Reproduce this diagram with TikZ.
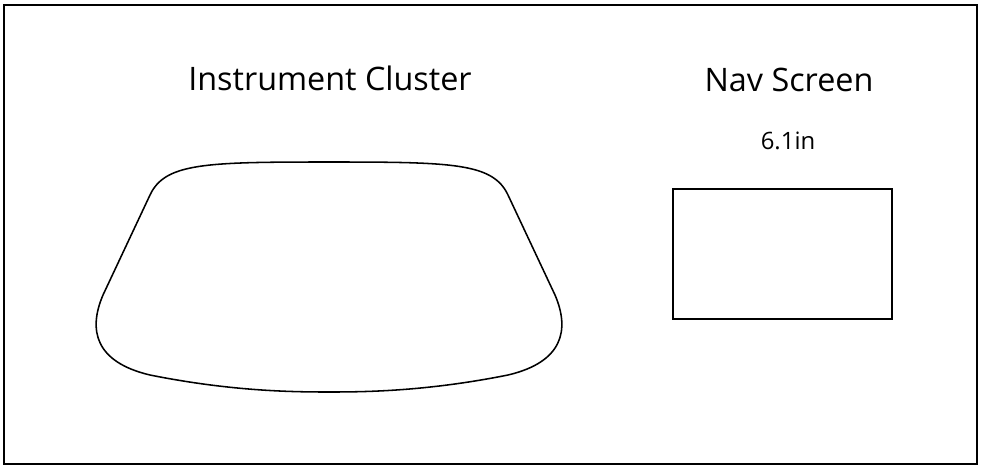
\documentclass[tikz,border=0pt]{standalone}
\usepackage{fontspec}
\setmainfont{Open Sans}
\usetikzlibrary{positioning}

\begin{document}
\begin{tikzpicture}[
    x=0.025cm, y=-0.025cm,
    frame/.style={draw=black,line width=1.2pt},
    outline/.style={draw=black,line width=1.1pt},
    title/.style={font={\fontsize{23}{26}\selectfont},inner sep=0pt,anchor=base},
    size/.style={font={\fontsize{17}{20}\selectfont},inner sep=0pt,anchor=base},
]

    \useasboundingbox (0,0) rectangle (984,469);
    \draw[frame] (4,5) rectangle (977,464);

    % instrument cluster outline
    \draw[outline] (329,162)
        .. controls (205,162) and (165,163) .. (150,195)
        -- (103,295)
        .. controls (88,330) and (95,362) .. (150,375)
        .. controls (230,391) and (290,392) .. (329,392)
        .. controls (368,392) and (428,391) .. (508,375)
        .. controls (563,362) and (570,330) .. (555,295)
        -- (508,195)
        .. controls (493,163) and (453,162) .. (329,162) -- cycle;
    \node[title] at (330,90) (cluster) {Instrument Cluster};

    % nav screen
    \node[title] at (789,91) (nav) {Nav Screen};
    \node[size] at (788,149) (navsize) {6.1in};
    \draw[outline] (673,189) rectangle (892,319);

\end{tikzpicture}
\end{document}
